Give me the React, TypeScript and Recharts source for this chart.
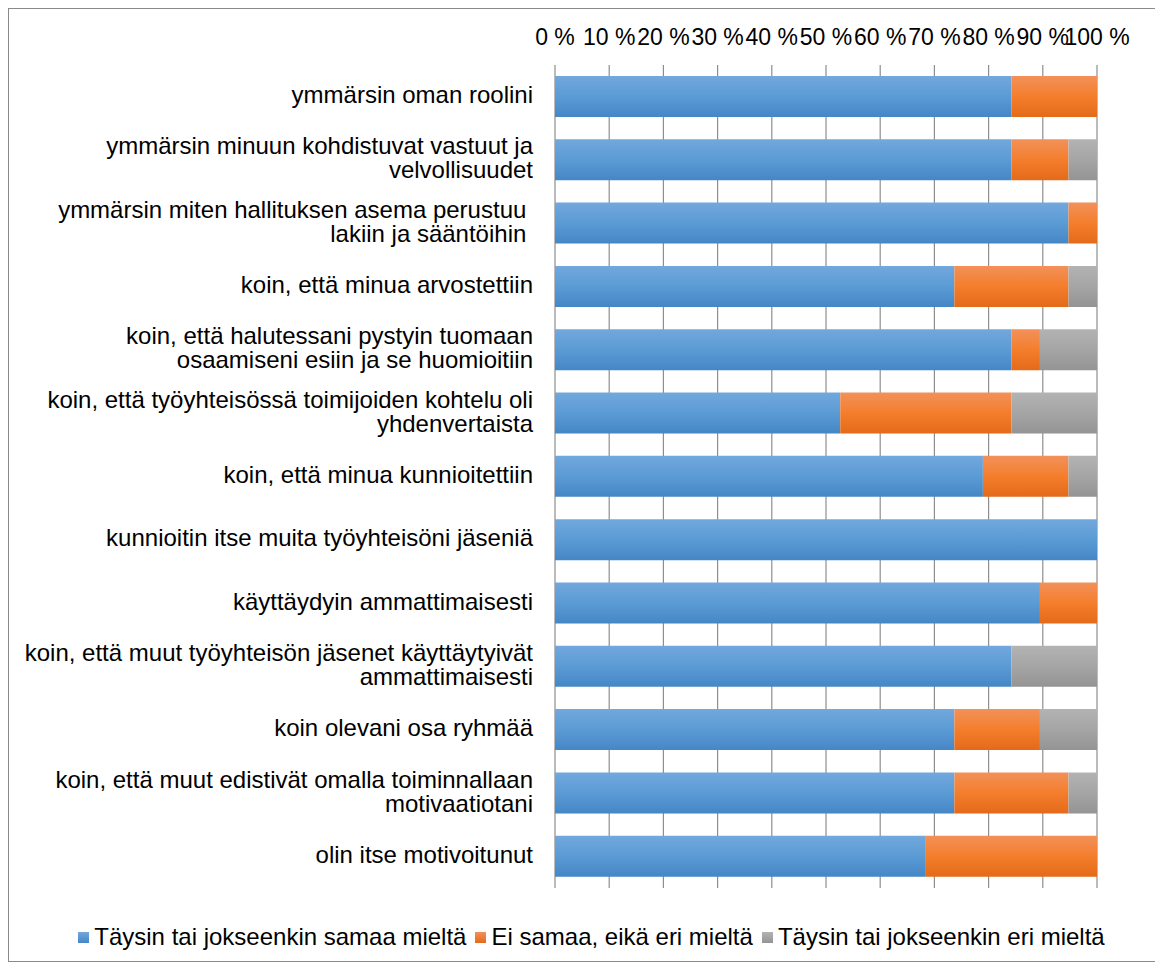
import React from "react"
import { Bar, BarChart, CartesianGrid, Legend, XAxis, YAxis } from "recharts"

const categories = [
  "ymmärsin oman roolini",
  "ymmärsin minuun kohdistuvat vastuut ja\nvelvollisuudet",
  "ymmärsin miten hallituksen asema perustuu \nlakiin ja sääntöihin ",
  "koin, että minua arvostettiin",
  "koin, että halutessani pystyin tuomaan\nosaamiseni esiin ja se huomioitiin",
  "koin, että työyhteisössä toimijoiden kohtelu oli\nyhdenvertaista",
  "koin, että minua kunnioitettiin",
  "kunnioitin itse muita työyhteisöni jäseniä",
  "käyttäydyin ammattimaisesti",
  "koin, että muut työyhteisön jäsenet käyttäytyivät\nammattimaisesti",
  "koin olevani osa ryhmää",
  "koin, että muut edistivät omalla toiminnallaan\nmotivaatiotani",
  "olin itse motivoitunut",
]

// vastaajamäärät (n = 19)
const agree = [16, 16, 18, 14, 16, 10, 15, 19, 17, 16, 14, 14, 13]
const neutral = [3, 2, 1, 4, 1, 6, 3, 0, 2, 0, 3, 4, 6]
const disagree = [0, 1, 0, 1, 2, 3, 1, 0, 0, 3, 2, 1, 0]

const seriesNames = [
  "Täysin tai jokseenkin samaa mieltä",
  "Ei samaa, eikä eri mieltä",
  "Täysin tai jokseenkin eri mieltä",
]

const xTicks = [0, 0.1, 0.2, 0.3, 0.4, 0.5, 0.6, 0.7, 0.8, 0.9, 1]

const data = categories.map((name, i) => ({
  name,
  agree: agree[i],
  neutral: neutral[i],
  disagree: disagree[i],
}))

const font = '"Liberation Sans", Arial, sans-serif'

const gradients = [
  { id: "gBlue", top: "#72a8dd", mid: "#5b9bd5", bottom: "#4586c6" },
  { id: "gOrange", top: "#f2915a", mid: "#f47e2c", bottom: "#e36a19" },
  { id: "gGray", top: "#b3b3b3", mid: "#a5a5a5", bottom: "#949494" },
]

function CategoryTick({ x, y, payload }: any) {
  const lines = String(payload.value).split("\n")
  const lineHeight = 24
  return (
    <text x={x} y={y} textAnchor="end" fontFamily={font} fontSize={24} fill="#000">
      {lines.map((line, i) => (
        <tspan
          key={i}
          x={x}
          y={y + 6.5 + (i - (lines.length - 1) / 2) * lineHeight}
          style={{ whiteSpace: "pre" }}
        >
          {line}
        </tspan>
      ))}
    </text>
  )
}

function LegendContent() {
  return (
    <div
      style={{
        height: 32,
        display: "flex",
        justifyContent: "center",
        alignItems: "center",
        fontFamily: font,
        fontSize: 24,
        color: "#000",
        whiteSpace: "nowrap",
        paddingLeft: 14,
      }}
    >
      {seriesNames.map((name, i) => (
        <span key={name} style={{ display: "flex", alignItems: "center", marginRight: i < 2 ? 9 : 0 }}>
          <span
            style={{
              display: "inline-block",
              width: 11,
              height: 11,
              marginRight: 5,
              background: `linear-gradient(${gradients[i].top}, ${gradients[i].bottom})`,
            }}
          />
          {name}
        </span>
      ))}
    </div>
  )
}

export default function App() {
  return (
    <div
      style={{
        width: 1151,
        height: 952,
        border: "1px solid #8a8a8a",
        background: "#fff",
      }}
    >
      <BarChart
        width={1151}
        height={952}
        data={data}
        layout="vertical"
        stackOffset="expand"
        barSize={41}
        margin={{ top: 0, right: 63, bottom: 41, left: 0 }}
      >
        <defs>
          {gradients.map((g) => (
            <linearGradient key={g.id} id={g.id} x1="0" y1="0" x2="0" y2="1">
              <stop offset="0%" stopColor={g.top} />
              <stop offset="50%" stopColor={g.mid} />
              <stop offset="100%" stopColor={g.bottom} />
            </linearGradient>
          ))}
        </defs>
        <CartesianGrid horizontal={false} stroke="#8e8e8e" strokeWidth={1.2} />
        <XAxis
          type="number"
          orientation="top"
          domain={[0, 1]}
          ticks={xTicks}
          height={56}
          axisLine={false}
          tickLine={false}
          tickSize={0}
          tickMargin={20}
          interval={0}
          tickFormatter={(v: number) => `${Math.round(v * 100)} %`}
          tick={{ fontFamily: font, fontSize: 23, fill: "#000" }}
        />
        <YAxis
          type="category"
          dataKey="name"
          width={546}
          axisLine={false}
          tickLine={false}
          tickSize={0}
          tickMargin={22}
          interval={0}
          tick={<CategoryTick />}
        />
        <Legend
          verticalAlign="bottom"
          content={<LegendContent />}
          wrapperStyle={{ top: 912, left: 0, width: 1151 }}
        />
        <Bar dataKey="agree" name={seriesNames[0]} stackId="a" fill="url(#gBlue)" isAnimationActive={false} />
        <Bar dataKey="neutral" name={seriesNames[1]} stackId="a" fill="url(#gOrange)" isAnimationActive={false} />
        <Bar dataKey="disagree" name={seriesNames[2]} stackId="a" fill="url(#gGray)" isAnimationActive={false} />
      </BarChart>
    </div>
  )
}
